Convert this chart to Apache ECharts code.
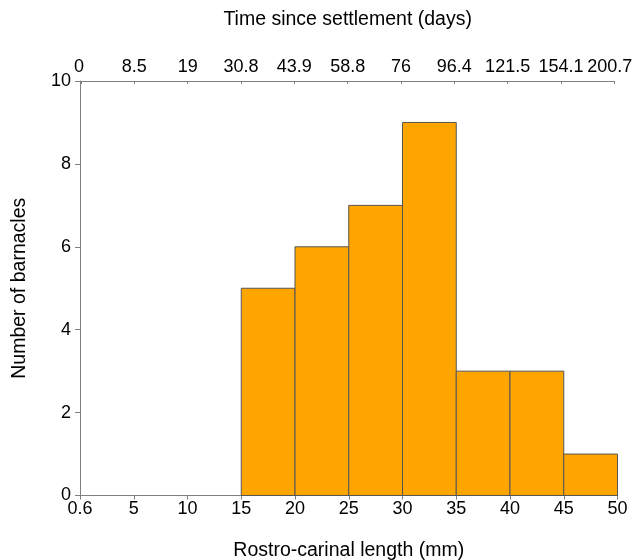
<!DOCTYPE html>
<html><head><meta charset="utf-8">
<script src="https://cdn.jsdelivr.net/npm/echarts@6/dist/echarts.min.js"></script>
<style>html,body{margin:0;padding:0;background:#fff}#c{width:636px;height:560px}</style>
</head><body><div id="c"></div>
<script>
var bottomLabels = ['0.6','5','10','15','20','25','30','35','40','45','50'];
var topLabels = ['0','8.5','19','30.8','43.9','58.8','76','96.4','121.5','154.1','200.7'];
var binStart = [3,4,5,6,7,8,9];
var binEnd = [4,5,6,7,8,9,10];
var counts = [5,6,7,9,3,3,1];
var yTicks = [0,2,4,6,8,10];

var chart = echarts.init(document.getElementById('c'));
var font = 'Liberation Sans, Arial, sans-serif';
var axisColor = '#808080';
var data = counts.map(function(v,i){return [binStart[i], binEnd[i], v];});
chart.setOption({
  animation:false,
  grid:[
    {left:80,right:18.5,top:81,bottom:64.5,outerBoundsMode:'none',containLabel:false},
    {left:81,right:21.7,top:81,bottom:64.5,outerBoundsMode:'none',containLabel:false}
  ],
  xAxis:[{
    gridIndex:0,type:'value',min:0,max:10,interval:1,position:'bottom',
    name:'Rostro-carinal length (mm)',nameLocation:'middle',nameGap:45,
    nameTextStyle:{fontFamily:font,fontSize:19.5,color:'#000'},
    axisLine:{show:true,onZero:false,lineStyle:{color:axisColor,width:1}},
    axisTick:{show:true,inside:false,length:4,lineStyle:{color:axisColor}},
    axisLabel:{fontFamily:font,fontSize:18,color:'#000',margin:5,hideOverlap:false,
      formatter:function(v){return bottomLabels[Math.round(v)];}},
    splitLine:{show:false}
  },{
    gridIndex:1,type:'value',min:0,max:10,interval:1,position:'top',
    name:'Time since settlement (days)',nameLocation:'middle',nameGap:51,
    nameTextStyle:{fontFamily:font,fontSize:19.5,color:'#000'},
    axisLine:{show:true,onZero:false,lineStyle:{color:axisColor,width:1}},
    axisTick:{show:true,inside:true,length:3,lineStyle:{color:axisColor}},
    axisLabel:{fontFamily:font,fontSize:18,color:'#000',margin:5,hideOverlap:false,
      formatter:function(v){
        var i = Math.round(v);
        if (i === topLabels.length-1) return '{last|' + topLabels[i] + '}';
        if (i === 0) return '{first|' + topLabels[i] + '}';
        return topLabels[i];
      },
      rich:{
        last:{fontFamily:font,fontSize:18,color:'#000',padding:[0,9,0,0]},
        first:{fontFamily:font,fontSize:18,color:'#000',padding:[0,4,0,0]}
      }},
    splitLine:{show:false}
  }],
  yAxis:[{
    gridIndex:0,type:'value',min:0,max:10,interval:2,
    name:'Number of barnacles',nameLocation:'middle',nameGap:50,
    nameTextStyle:{fontFamily:font,fontSize:19.5,color:'#000'},
    axisLine:{show:true,lineStyle:{color:axisColor,width:1}},
    axisTick:{show:true,inside:false,length:5,lineStyle:{color:axisColor}},
    axisLabel:{fontFamily:font,fontSize:18,color:'#000',margin:9,
      formatter:function(v){return yTicks.indexOf(v)>=0?String(v):'';}},
    splitLine:{show:false}
  },{
    gridIndex:1,type:'value',min:0,max:10,show:false
  }],
  series:[{
    type:'custom',xAxisIndex:0,yAxisIndex:0,
    data:data,
    encode:{x:[0,1],y:2},
    renderItem:function(params,api){
      var p0 = api.coord([api.value(0),0]);
      var p1 = api.coord([api.value(1),api.value(2)]);
      return {type:'rect',shape:{x:p0[0],y:p1[1],width:p1[0]-p0[0],height:p0[1]-p1[1]},
        style:{fill:'#FFA500',stroke:'#555555',lineWidth:1}};
    }
  }]
});
</script></body></html>
